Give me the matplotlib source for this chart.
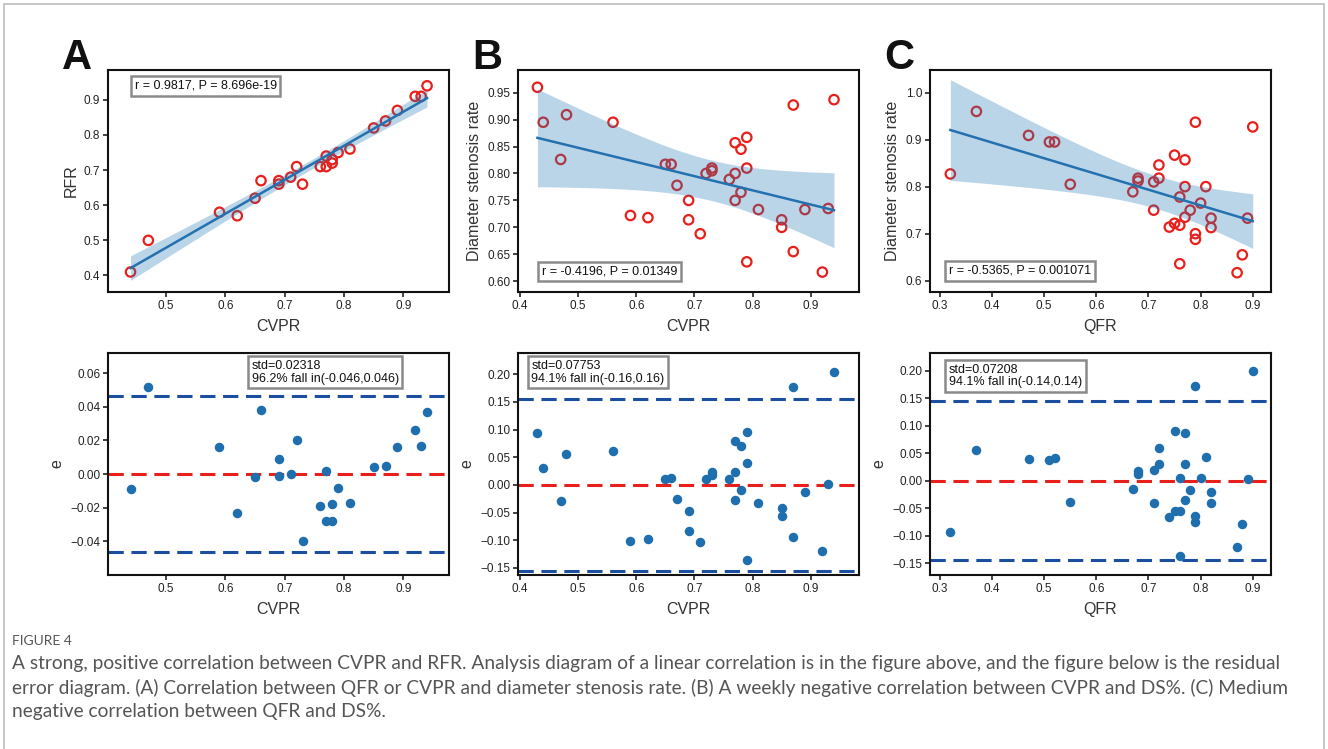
import numpy as np
import matplotlib
matplotlib.use("Agg")
import matplotlib.pyplot as plt
from matplotlib.patches import Rectangle

# ---- data ----
# A: CVPR vs RFR
a_x = [0.44, 0.47, 0.59, 0.62, 0.65, 0.66, 0.69, 0.69, 0.71, 0.72, 0.73, 0.76,
       0.77, 0.77, 0.78, 0.78, 0.79, 0.81, 0.85, 0.87, 0.89, 0.92, 0.93, 0.94]
a_y = [0.41, 0.50, 0.58, 0.57, 0.62, 0.67, 0.67, 0.66, 0.68, 0.71, 0.66, 0.71,
       0.74, 0.71, 0.73, 0.72, 0.75, 0.76, 0.82, 0.84, 0.87, 0.91, 0.91, 0.94]
a_e = [-0.009, 0.052, 0.016, -0.023, -0.002, 0.038, 0.009, -0.001, 0.000, 0.020, -0.040, -0.019,
       0.002, -0.028, -0.018, -0.028, -0.008, -0.017, 0.004, 0.005, 0.016, 0.026, 0.017, 0.037]

# B: CVPR vs diameter stenosis rate
b_x = [0.43, 0.44, 0.47, 0.48, 0.56, 0.59, 0.62, 0.65, 0.66, 0.67, 0.69, 0.69,
       0.71, 0.72, 0.73, 0.73, 0.76, 0.77, 0.77, 0.77, 0.78, 0.78, 0.79, 0.79,
       0.79, 0.81, 0.85, 0.85, 0.87, 0.87, 0.89, 0.92, 0.93, 0.94]
b_y = [0.960, 0.895, 0.826, 0.909, 0.895, 0.722, 0.718, 0.817, 0.817, 0.778, 0.750, 0.714,
       0.688, 0.800, 0.810, 0.805, 0.789, 0.857, 0.800, 0.750, 0.845, 0.765, 0.867, 0.810,
       0.636, 0.733, 0.714, 0.700, 0.927, 0.655, 0.733, 0.617, 0.735, 0.937]
b_e = [0.093, 0.031, -0.030, 0.055, 0.062, -0.101, -0.098, 0.010, 0.012, -0.025, -0.048, -0.084,
       -0.104, 0.010, 0.023, 0.018, 0.010, 0.080, 0.023, -0.027, 0.071, -0.010, 0.096, 0.039,
       -0.135, -0.033, -0.042, -0.056, 0.177, -0.095, -0.012, -0.120, 0.001, 0.205]

# C: QFR vs diameter stenosis rate
c_x = [0.32, 0.37, 0.47, 0.51, 0.52, 0.55, 0.67, 0.68, 0.68, 0.71, 0.71, 0.72,
       0.72, 0.74, 0.75, 0.75, 0.76, 0.76, 0.76, 0.77, 0.77, 0.77, 0.78, 0.79,
       0.79, 0.79, 0.80, 0.81, 0.82, 0.82, 0.87, 0.88, 0.89, 0.90]
c_y = [0.827, 0.960, 0.909, 0.895, 0.895, 0.805, 0.789, 0.818, 0.812, 0.810, 0.750, 0.846,
       0.818, 0.714, 0.867, 0.722, 0.778, 0.718, 0.636, 0.857, 0.800, 0.735, 0.750, 0.937,
       0.700, 0.688, 0.765, 0.800, 0.733, 0.713, 0.617, 0.655, 0.733, 0.927]
c_e = [-0.093, 0.056, 0.039, 0.038, 0.042, -0.038, -0.015, 0.018, 0.012, 0.020, -0.040, 0.060,
       0.031, -0.066, 0.090, -0.055, 0.005, -0.055, -0.137, 0.087, 0.030, -0.035, -0.017, 0.173,
       -0.063, -0.075, 0.005, 0.043, -0.020, -0.040, -0.120, -0.078, 0.003, 0.200]

letters = ["A", "B", "C"]
x_labels = ["CVPR", "CVPR", "QFR"]
y_labels = ["RFR", "Diameter stenosis rate", "Diameter stenosis rate"]
corr_text = ["r = 0.9817, P = 8.696e-19", "r = -0.4196, P = 0.01349", "r = -0.5365, P = 0.001071"]
stds = [0.02318, 0.07753, 0.07208]
res_text = ["std=0.02318\n96.2% fall in(-0.046,0.046)",
            "std=0.07753\n94.1% fall in(-0.16,0.16)",
            "std=0.07208\n94.1% fall in(-0.14,0.14)"]

plt.rcParams['font.family'] = ['Liberation Sans', 'DejaVu Sans']

W, H = 1328, 749
fig = plt.figure(figsize=(W / 100, H / 100), dpi=100)


def px_axes(left, top, right, bottom):
    return fig.add_axes([left / W, 1 - bottom / H, (right - left) / W, (bottom - top) / H])


def t_crit(df, z=2.5758):
    # 99% two-sided t quantile (Cornish-Fisher expansion)
    return z + (z**3 + z) / (4 * df) + (5 * z**5 + 16 * z**3 + 3 * z) / (96 * df**2)


def style(ax, xlabel, ylabel):
    for s in ax.spines.values():
        s.set_linewidth(1.5)
        s.set_color('#111111')
    ax.tick_params(direction='out', length=3.5, width=1.2, labelsize=8.5,
                   colors='#222222', pad=2)
    ax.set_xlabel(xlabel, fontsize=11.5, color='#333333', labelpad=5)
    ax.set_ylabel(ylabel, fontsize=11.5, color='#333333', labelpad=4)


lefts = [108, 518, 930]
xlims = [(0.402, 0.977), (0.3966, 0.983), (0.281, 0.935)]
top_ylims = [(0.353, 0.985), (0.580, 0.992), (0.576, 1.048)]
bot_ylims = [(-0.060, 0.072), (-0.163, 0.2386), (-0.171, 0.232)]
top_yticks = [np.arange(0.4, 0.91, 0.1), np.arange(0.60, 0.951, 0.05), np.arange(0.6, 1.01, 0.1)]
top_yfmt = ['%.1f', '%.2f', '%.1f']
bot_yticks = [np.arange(-0.04, 0.061, 0.02), np.arange(-0.15, 0.201, 0.05), np.arange(-0.15, 0.201, 0.05)]
xticks = [np.arange(0.5, 0.91, 0.1), np.arange(0.4, 0.91, 0.1), np.arange(0.3, 0.91, 0.1)]
corr_pos = [(0.078, 0.955, 'top'), (0.07, 0.065, 'bottom'), (0.056, 0.068, 'bottom')]
res_pos = [(0.421, 0.968), (0.039, 0.968), (0.056, 0.952)]

data = [(a_x, a_y, a_e), (b_x, b_y, b_e), (c_x, c_y, c_e)]

for i, (xs, ys, es) in enumerate(data):
    xs = np.array(xs)
    ys = np.array(ys)
    left = lefts[i]

    # --- regression panel ---
    ax = px_axes(left, 70, left + 341, 292)
    ax.scatter(xs, ys, s=46, facecolors='none', edgecolors='#e8201c', linewidths=1.6, zorder=2)
    slope, intercept = np.polyfit(xs, ys, 1)
    grid = np.linspace(xs.min(), xs.max(), 100)
    fit = intercept + slope * grid
    n = len(xs)
    resid = ys - (intercept + slope * xs)
    s_err = np.sqrt(np.sum(resid**2) / (n - 2))
    sxx = np.sum((xs - xs.mean())**2)
    half = t_crit(n - 2) * s_err * np.sqrt(1 / n + (grid - xs.mean())**2 / sxx)
    ax.plot(grid, fit, color='#2471b0', lw=1.8, zorder=4)
    ax.fill_between(grid, fit - half, fit + half, color='#1f77b4', alpha=0.3, lw=0, zorder=3)
    ax.set_xlim(xlims[i])
    ax.set_ylim(top_ylims[i])
    ax.set_xticks(xticks[i])
    ax.set_xticklabels(['%.1f' % v for v in xticks[i]])
    ax.set_yticks(top_yticks[i])
    ax.set_yticklabels([top_yfmt[i] % v for v in top_yticks[i]])
    style(ax, x_labels[i], y_labels[i])
    tx, ty, va = corr_pos[i]
    ax.text(tx, ty, corr_text[i], transform=ax.transAxes, fontsize=9, va=va, ha='left',
            color='#111111', zorder=6,
            bbox=dict(boxstyle='square,pad=0.3', fc='white', ec='#8a8a8a', lw=1.8))
    fig.text((left - 46) / W, 1 - 58 / H, letters[i], fontsize=30, fontweight='bold',
             va='center', ha='left', color='#111111')

    # --- residual panel ---
    ax2 = px_axes(left, 353, left + 341, 575)
    ax2.scatter(xs, es, s=34, color='#1f6fae', zorder=3)
    ax2.axhline(0, color='#e8201c', ls='--', lw=2.2, dashes=(5, 2.5), zorder=2)
    ax2.axhline(2 * stds[i], color='#1c4ea0', ls='--', lw=2.2, dashes=(5, 2.5), zorder=2)
    ax2.axhline(-2 * stds[i], color='#1c4ea0', ls='--', lw=2.2, dashes=(5, 2.5), zorder=2)
    ax2.set_xlim(xlims[i])
    ax2.set_ylim(bot_ylims[i])
    ax2.set_xticks(xticks[i])
    ax2.set_xticklabels(['%.1f' % v for v in xticks[i]])
    ax2.set_yticks(bot_yticks[i])
    style(ax2, x_labels[i], 'e')
    rx, ry = res_pos[i]
    ax2.text(rx, ry, res_text[i], transform=ax2.transAxes, fontsize=9, va='top', ha='left',
             color='#111111', linespacing=1.05, zorder=6,
             bbox=dict(boxstyle='square,pad=0.3', fc='white', ec='#8a8a8a', lw=1.8))

# page frame
fig.patches.append(Rectangle((4 / W, -0.1), 1320 / W, 1 - 4 / H + 0.1, transform=fig.transFigure,
                             fill=False, ec='#bdbdbd', lw=1.2))

caption = ("A strong, positive correlation between CVPR and RFR. Analysis diagram of a linear correlation is in the figure above, and the figure below is the residual\n"
           "error diagram. (A) Correlation between QFR or CVPR and diameter stenosis rate. (B) A weekly negative correlation between CVPR and DS%. (C) Medium\n"
           "negative correlation between QFR and DS%.")
fig.text(12 / W, 1 - 641 / H, "FIGURE 4", fontsize=10, color='#555555', family='Lato',
         va='center', ha='left')
fig.text(12 / W, 1 - 655 / H, caption, fontsize=13.8, color='#555555', family='Lato',
         va='top', ha='left', linespacing=1.46)

fig.savefig('out.png', dpi=100)
